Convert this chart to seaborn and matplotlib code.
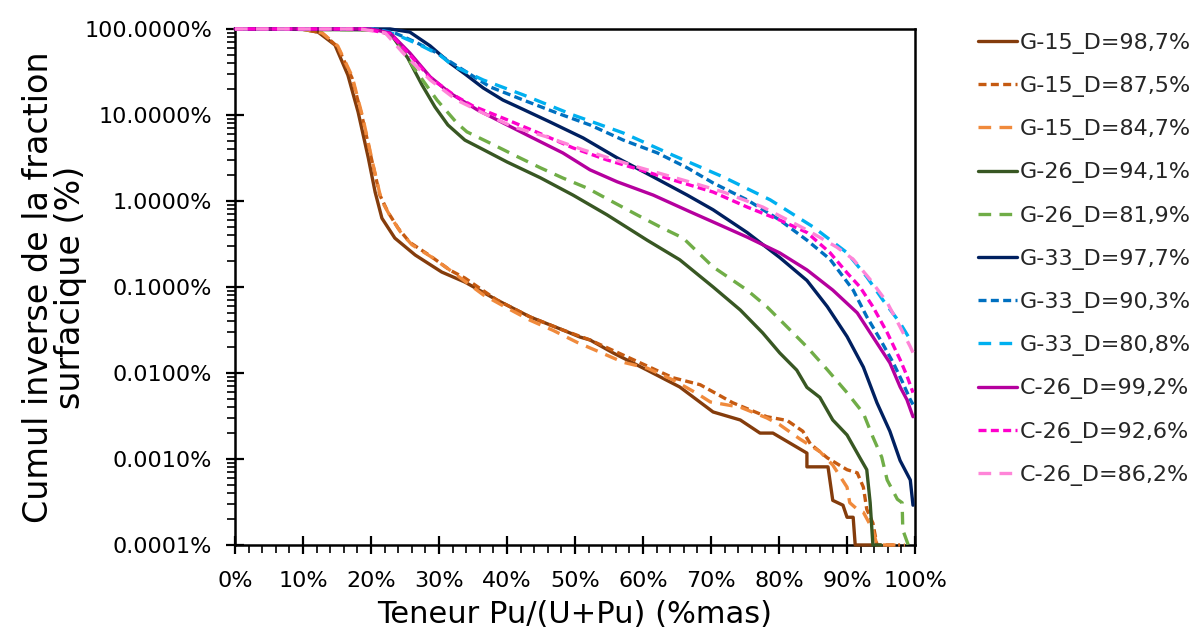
import numpy as np
import pandas as pd
import matplotlib
matplotlib.use('Agg')
import matplotlib.pyplot as plt
from matplotlib.ticker import FixedLocator, FuncFormatter, MultipleLocator, LogLocator, NullFormatter
import seaborn as sns

# --- data (x: %mas Pu, y: inverse cumulative surface fraction in %)
g15_987_x = [0, 10, 12.2, 14.7, 16.6, 18.1, 19.6, 20.6, 21.6, 23.5, 26.5, 30.4, 33.8, 38.5, 43.4, 48.2, 50.7,
             52.2, 55.6, 60.6, 65.4, 70.3, 74.3, 77.2, 79.1, 81.6, 84.1, 84.1, 87.2, 87.9, 89.4, 90.0, 90.9,
             91.2, 93.5]
g15_987_y = [100, 99, 92, 65, 29, 10.8, 3.16, 1.27, 0.63, 0.37, 0.235, 0.149, 0.114, 0.0706, 0.0448, 0.0316,
             0.0262, 0.0242, 0.0171, 0.0108, 0.00687, 0.00352, 0.00284, 0.0020, 0.0020, 0.00153, 0.00117,
             0.00081, 0.00081, 0.00033, 0.00029, 0.00021, 0.00021, 0.0001, 0.0001]

g15_875_x = [0, 10, 12.8, 15.1, 17.2, 18.7, 20.1, 21.3, 22.5, 24.0, 25.7, 28.7, 31.6, 33.8, 38.5, 43.4, 48.2,
             52.2, 59.6, 64.4, 68.4, 73.2, 78.2, 81.2, 83.5, 84.6, 87.1, 90.0, 91.5, 92.4, 92.9, 93.8, 94.4, 97.8]
g15_875_y = [100, 99, 89.8, 61.8, 26.9, 9.48, 3.0, 1.17, 0.74, 0.48, 0.33, 0.23, 0.157, 0.127, 0.0706, 0.0448,
             0.0316, 0.0242, 0.0131, 0.0088, 0.0073, 0.0045, 0.0031, 0.0028, 0.0021, 0.0015, 0.00103, 0.00075,
             0.00069, 0.00047, 0.00026, 0.00018, 0.0001, 0.0001]

g15_847_x = [0, 10, 12.8, 15.1, 17.2, 18.8, 20.3, 21.5, 22.8, 24.3, 26.0, 29.0, 31.6, 36.5, 40.0, 43.4, 46.8,
             50.3, 53.7, 57.1, 60.6, 64.4, 67.9, 69.9, 74.3, 78.2, 80.1, 83.1, 86.0, 87.9, 90.0, 90.4, 91.5,
             92.4, 93.8, 94.4, 98.5]
g15_847_y = [100, 99, 89.8, 63.5, 28.4, 9.24, 2.64, 1.03, 0.67, 0.44, 0.31, 0.22, 0.157, 0.081, 0.057, 0.041,
             0.0312, 0.0227, 0.0174, 0.0133, 0.0114, 0.0083, 0.0058, 0.0046, 0.0040, 0.0030, 0.0025, 0.0017,
             0.00122, 0.00085, 0.00047, 0.00031, 0.00026, 0.00024, 0.00015, 0.0001, 0.0001]

g26_941_x = [0, 21.3, 23.1, 25.4, 27.5, 29.4, 31.3, 33.8, 36.0, 40.0, 44.9, 49.7, 54.7, 60.6, 65.4, 70.3, 74.3,
             77.6, 80.1, 82.6, 84.1, 86.0, 87.9, 90.0, 91.9, 92.9, 93.4, 93.8, 95.0]
g26_941_y = [100, 97.4, 82.9, 46, 22.3, 12.4, 7.65, 5.1, 4.15, 2.84, 1.86, 1.17, 0.69, 0.35, 0.207, 0.100, 0.054,
             0.0292, 0.0171, 0.0108, 0.0068, 0.0052, 0.00284, 0.0019, 0.00103, 0.00075, 0.00031, 0.0001, 0.0001]

g26_819_x = [0, 21.3, 23.8, 26.2, 29.7, 32.6, 34.1, 37.5, 41.5, 44.9, 48.2, 51.8, 55.6, 59.1, 62.5, 65.9, 70.3,
             75.3, 78.2, 81.2, 84.1, 87.1, 90.0, 92.4, 93.8, 95.1, 95.9, 97.4, 98.1, 98.2, 99.0, 100]
g26_819_y = [100, 97.4, 74.5, 36.2, 14.9, 8.1, 6.36, 4.71, 3.28, 2.43, 1.85, 1.41, 0.97, 0.69, 0.50, 0.37, 0.171,
             0.092, 0.059, 0.0342, 0.0201, 0.0109, 0.0059, 0.0034, 0.0018, 0.00105, 0.00057, 0.00034, 0.00031,
             0.00015, 0.0001, 0.0001]

g33_977_x = [0, 22.8, 25.7, 28.7, 31.6, 33.8, 36.5, 39.4, 41.5, 46.3, 51.2, 56.2, 61.0, 66.5, 70.3, 75.3, 80.1,
             84.1, 87.1, 90.0, 92.4, 94.4, 96.3, 97.8, 99.3, 99.7]
g33_977_y = [100, 100, 92, 63.5, 40.2, 30, 20.6, 14.9, 12.5, 8.3, 5.4, 3.17, 2.0, 1.17, 0.79, 0.43, 0.22, 0.119,
             0.059, 0.0265, 0.0117, 0.0045, 0.0021, 0.00096, 0.00057, 0.00029]

g33_903_x = [0, 20.6, 23.5, 26.5, 29.4, 32.4, 37.5, 42.4, 47.4, 52.2, 57.1, 62.1, 66.5, 70.3, 75.3, 80.1, 84.1,
             87.5, 90.9, 92.9, 94.9, 96.8, 98.2, 99.3, 99.7]
g33_903_y = [100, 100, 89.8, 70.6, 54.0, 38.1, 21.2, 14.9, 10.5, 7.65, 5.1, 3.62, 2.43, 1.62, 1.03, 0.60, 0.35,
             0.21, 0.092, 0.0451, 0.0244, 0.0131, 0.0077, 0.0049, 0.0043]

g33_808_x = [0, 20.6, 23.5, 27.2, 30.1, 32.1, 36.5, 42.4, 49.7, 57.1, 64.4, 71.8, 78.7, 85.0, 90.0, 92.9, 95.3,
             97.8, 99.3, 99.7]
g33_808_y = [100, 100, 87.5, 65, 49.8, 37.1, 25.5, 17.1, 10.0, 6.17, 3.4, 1.9, 1.03, 0.50, 0.25, 0.131, 0.070,
             0.0381, 0.0243, 0.0225]

c26_992_x = [0, 19.9, 22.8, 25.7, 28.7, 31.6, 35.6, 39.4, 43.4, 48.2, 52.2, 56.2, 61.5, 66.9, 70.3, 75.3, 80.1,
             84.1, 87.9, 91.5, 93.8, 96.3, 97.8, 98.8, 99.7]
c26_992_y = [100, 100, 89.8, 52.6, 27.7, 18.0, 11.5, 8.1, 5.6, 3.62, 2.3, 1.67, 1.17, 0.75, 0.57, 0.38, 0.249,
             0.158, 0.092, 0.050, 0.0263, 0.0131, 0.0069, 0.0049, 0.0031]

c26_926_x = [0, 19.1, 22.8, 25.7, 28.7, 32.4, 35.0, 40.0, 44.9, 49.7, 54.7, 59.6, 65.4, 70.3, 75.3, 80.1, 84.1,
             87.5, 90.0, 91.9, 93.8, 95.9, 97.8, 98.8, 99.7]
c26_926_y = [100, 100, 87.5, 49.9, 27, 16.6, 12.7, 8.8, 6.06, 4.14, 3.0, 2.3, 1.66, 1.27, 0.85, 0.60, 0.43, 0.25,
             0.146, 0.100, 0.059, 0.0295, 0.0143, 0.0093, 0.0059]

c26_862_x = [0, 18.4, 22.1, 24.7, 28.7, 32.6, 36.5, 40.9, 45.9, 51.2, 59.6, 66.9, 71.8, 77.6, 84.1, 88.5, 90.9,
             93.4, 95.9, 97.8, 99.3, 99.7]
c26_862_y = [100, 100, 89.8, 52.6, 25.5, 14.9, 10.5, 7.27, 5.55, 3.93, 2.43, 1.66, 1.27, 0.85, 0.46, 0.29, 0.21,
             0.122, 0.066, 0.0343, 0.0202, 0.0172]

labels = ['G-15_D=98,7%', 'G-15_D=87,5%', 'G-15_D=84,7%', 'G-26_D=94,1%', 'G-26_D=81,9%',
          'G-33_D=97,7%', 'G-33_D=90,3%', 'G-33_D=80,8%', 'C-26_D=99,2%', 'C-26_D=92,6%', 'C-26_D=86,2%']

series = [(g15_987_x, g15_987_y), (g15_875_x, g15_875_y), (g15_847_x, g15_847_y),
          (g26_941_x, g26_941_y), (g26_819_x, g26_819_y),
          (g33_977_x, g33_977_y), (g33_903_x, g33_903_y), (g33_808_x, g33_808_y),
          (c26_992_x, c26_992_y), (c26_926_x, c26_926_y), (c26_862_x, c26_862_y)]

colors = ['#843C0C', '#C55A11', '#F08A3C', '#385723', '#70AD47',
          '#002060', '#0070C0', '#00B0F0', '#B5009E', '#FF00CC', '#FF85D8']
short_dash = (0, (2.4, 1.3))
long_dash = (0, (3.8, 2.5))
styles = ['-', short_dash, long_dash, '-', long_dash,
          '-', short_dash, long_dash, '-', short_dash, long_dash]

sns.set_theme(style='ticks')
plt.rcParams['font.family'] = ['DejaVu Sans']

fig = plt.figure(figsize=(12.01, 6.32), dpi=100)
ax = fig.add_axes([0.1957, 0.1377, 0.5662, 0.8165])

for (xs, ys), lab, col, ls in zip(series, labels, colors, styles):
    df = pd.DataFrame({'x': xs, 'y': ys})
    sns.lineplot(data=df, x='x', y='y', ax=ax, color=col, linestyle=ls, linewidth=2.4,
                 label=lab, estimator=None, sort=False, clip_on=False, zorder=3)

ax.set_yscale('log')
ax.set_xlim(0, 100)
ax.set_ylim(1e-4, 100)

ax.xaxis.set_major_locator(FixedLocator(list(range(0, 101, 10))))
ax.xaxis.set_major_formatter(FuncFormatter(lambda v, p: f'{v:.0f}%'))
ax.xaxis.set_minor_locator(MultipleLocator(2))
ax.yaxis.set_major_locator(FixedLocator([1e-4, 1e-3, 1e-2, 1e-1, 1, 10, 100]))
ax.yaxis.set_major_formatter(FuncFormatter(lambda v, p: f'{v:.4f}%'))
ax.yaxis.set_minor_locator(LogLocator(base=10, subs=np.arange(2, 10), numticks=20))
ax.yaxis.set_minor_formatter(NullFormatter())

ax.tick_params(which='major', direction='inout', length=13, width=1.6, color='black',
               labelsize=16, labelcolor='black')
ax.tick_params(axis='x', which='major', pad=12)
ax.tick_params(axis='y', which='major', pad=10)
ax.tick_params(which='minor', direction='out', length=6, width=1.2, color='black')
for sp in ax.spines.values():
    sp.set_color('black')
    sp.set_linewidth(1.8)

ax.set_xlabel('Teneur Pu/(U+Pu) (%mas)', fontsize=22, color='black', labelpad=7)
ax.set_ylabel('Cumul inverse de la fraction\nsurfacique (%)', fontsize=24, color='black', labelpad=-2,
              linespacing=0.98)

ax.legend(loc='upper left', bbox_to_anchor=(1.08, 1.01), frameon=False, fontsize=16,
          handlelength=1.75, handletextpad=0.1, labelspacing=1.0, borderaxespad=0.0)

fig.savefig('out.png', dpi=100, facecolor='white')
